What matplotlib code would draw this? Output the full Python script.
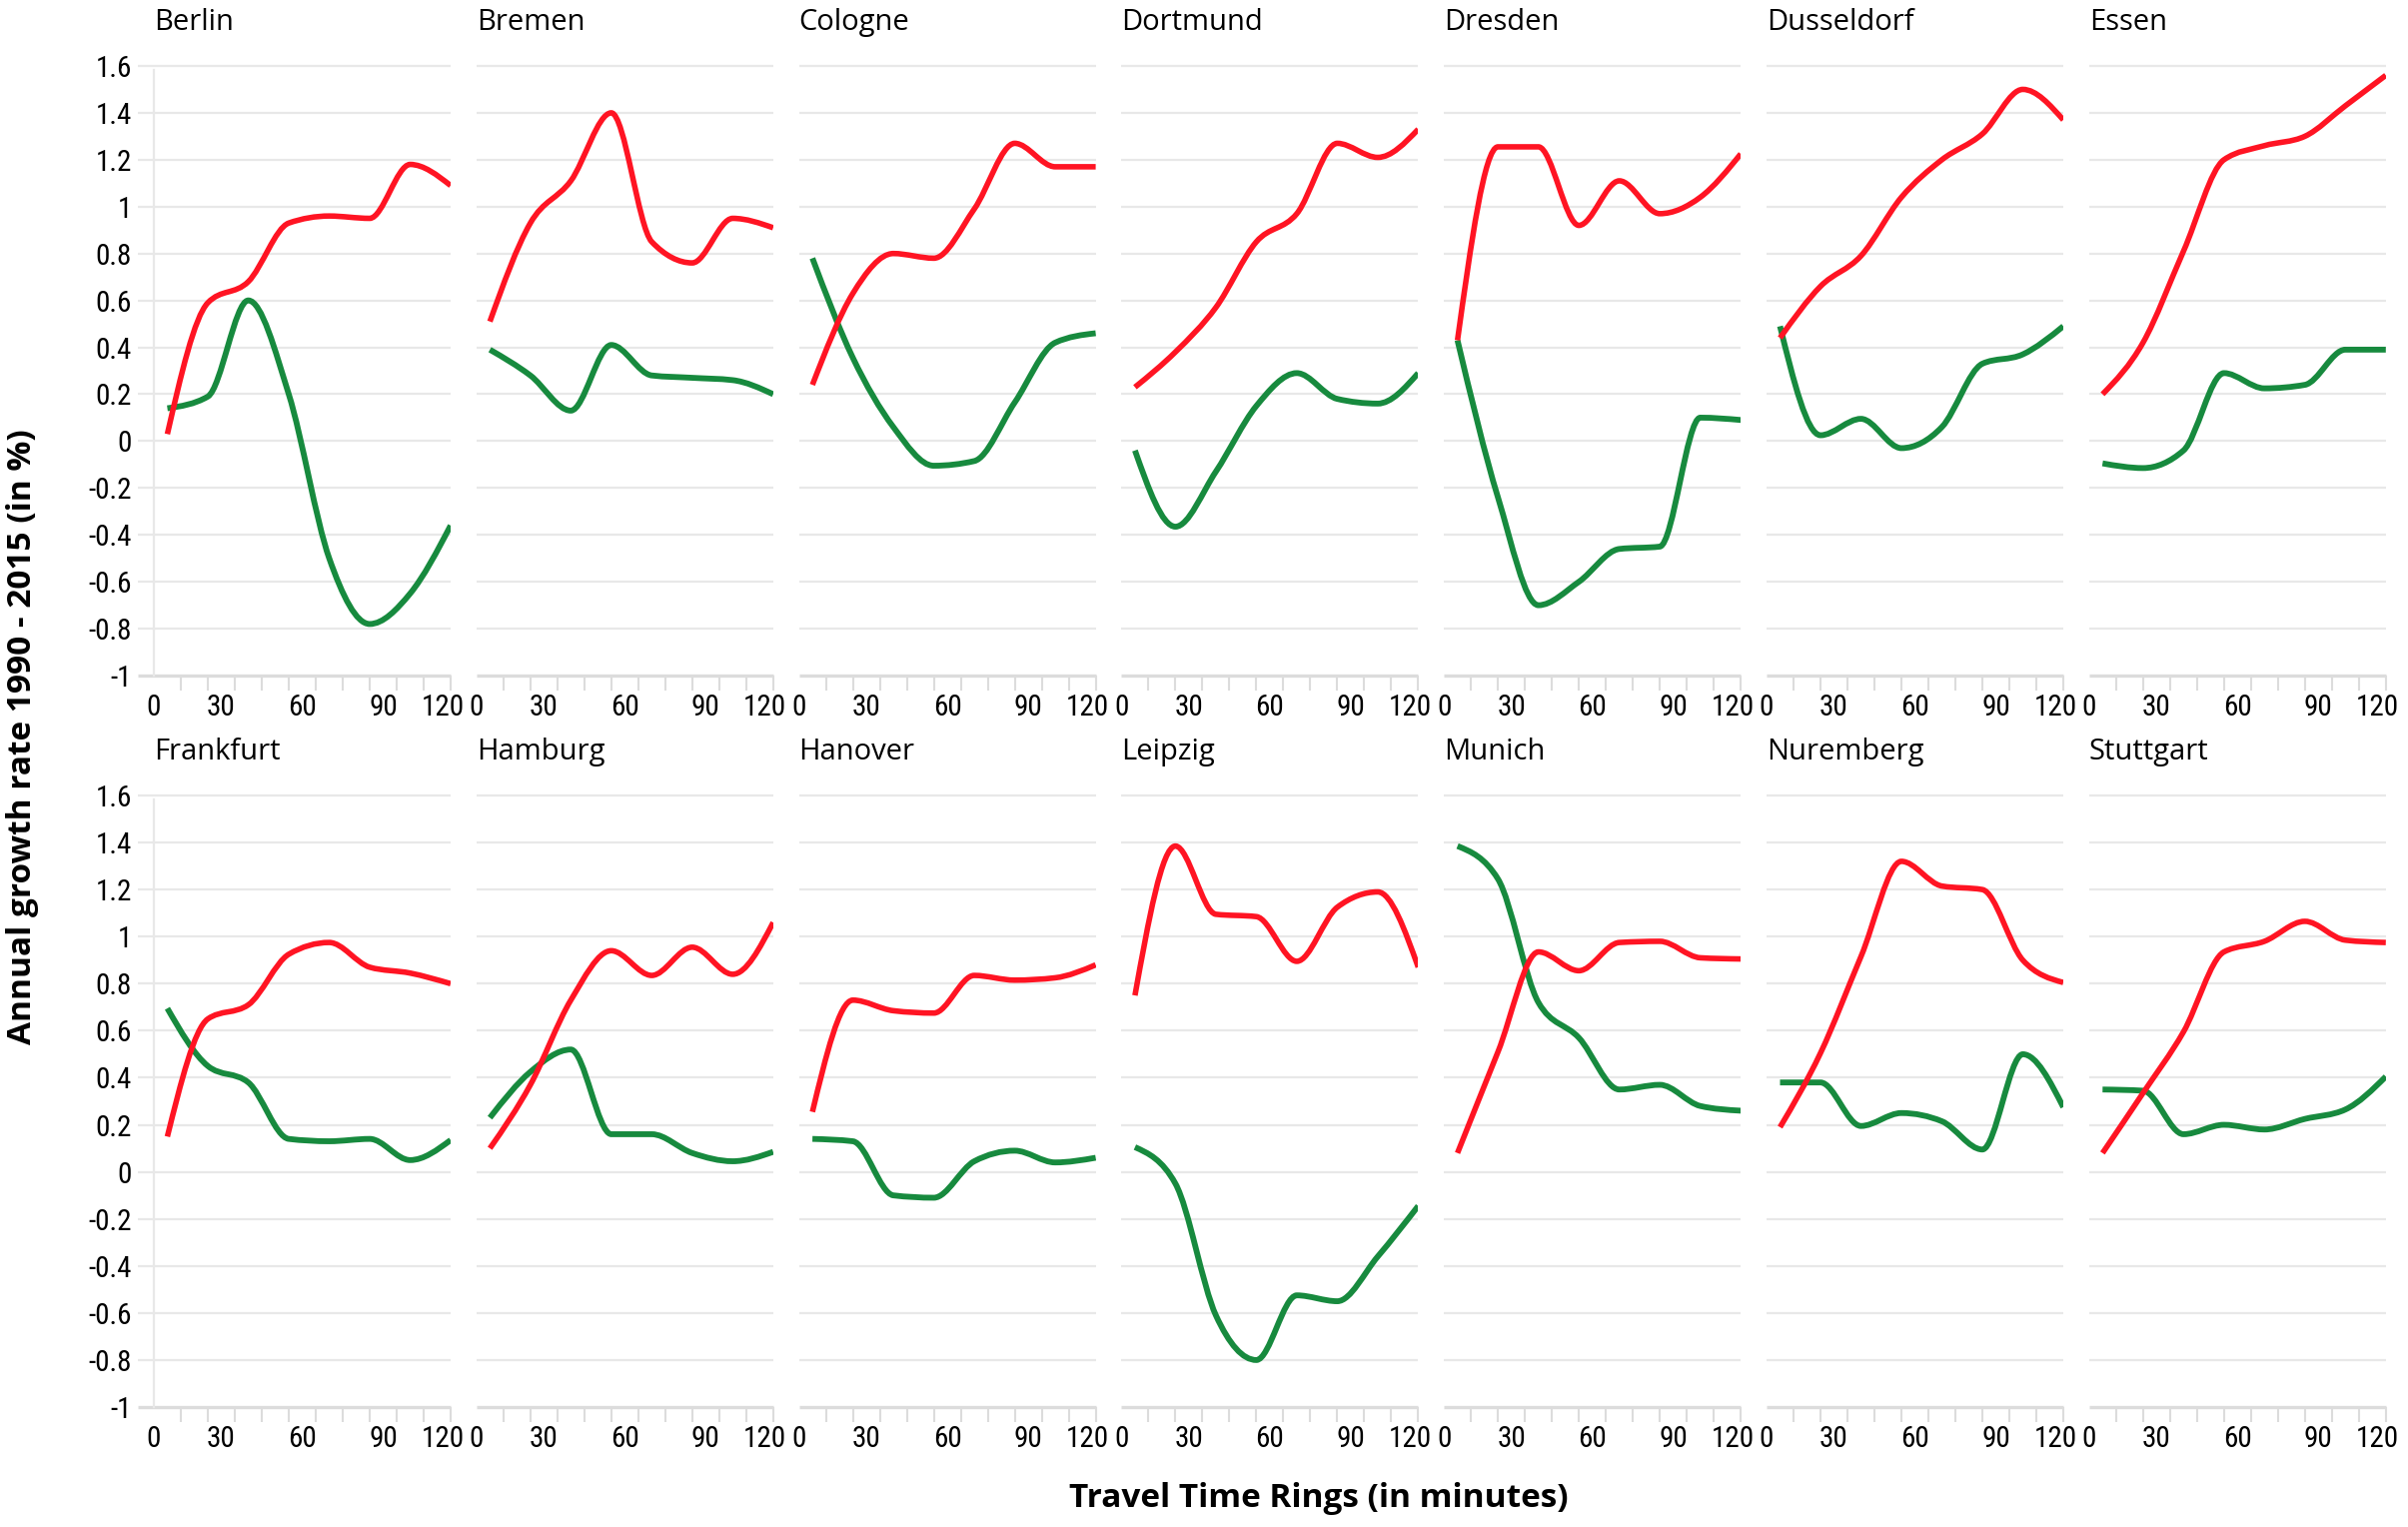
import matplotlib

matplotlib.use("Agg")
import matplotlib.pyplot as plt
import numpy as np
from matplotlib import font_manager
from matplotlib.patches import PathPatch
from matplotlib.path import Path

# --- data --------------------------------------------------------------
CITIES = [
    "Berlin", "Bremen", "Cologne", "Dortmund", "Dresden", "Dusseldorf", "Essen",
    "Frankfurt", "Hamburg", "Hanover", "Leipzig", "Munich", "Nuremberg", "Stuttgart",
]
# ring midpoints on the chart's x scale (minutes)
RING_X = [7.5, 22.5, 37.5, 52.5, 67.5, 82.5, 97.5, 112.5]

RED = [
    [0.03, 0.59, 0.68, 0.93, 0.96, 0.95, 1.18, 1.09],   # Berlin
    [0.51, 0.93, 1.11, 1.40, 0.85, 0.76, 0.95, 0.91],   # Bremen
    [0.24, 0.63, 0.80, 0.78, 0.99, 1.27, 1.17, 1.17],   # Cologne
    [0.23, 0.38, 0.57, 0.85, 0.97, 1.27, 1.21, 1.33],   # Dortmund
    [0.43, 1.255, 1.255, 0.92, 1.11, 0.97, 1.04, 1.225],  # Dresden
    [0.44, 0.66, 0.79, 1.04, 1.20, 1.31, 1.50, 1.37],   # Dusseldorf
    [0.20, 0.42, 0.81, 1.20, 1.26, 1.30, 1.43, 1.56],   # Essen
    [0.15, 0.65, 0.71, 0.925, 0.975, 0.87, 0.845, 0.80],  # Frankfurt
    [0.10, 0.37, 0.73, 0.94, 0.835, 0.955, 0.84, 1.06],  # Hamburg
    [0.255, 0.73, 0.685, 0.675, 0.835, 0.815, 0.825, 0.88],  # Hanover
    [0.75, 1.385, 1.095, 1.085, 0.895, 1.125, 1.19, 0.87],  # Leipzig
    [0.08, 0.51, 0.935, 0.855, 0.975, 0.98, 0.91, 0.905],  # Munich
    [0.19, 0.505, 0.915, 1.32, 1.215, 1.20, 0.90, 0.805],  # Nuremberg
    [0.08, 0.335, 0.595, 0.935, 0.98, 1.065, 0.985, 0.975],  # Stuttgart
]
GREEN = [
    [0.14, 0.19, 0.60, 0.20, -0.50, -0.78, -0.65, -0.36],   # Berlin
    [0.39, 0.28, 0.13, 0.41, 0.28, 0.27, 0.26, 0.20],       # Bremen
    [0.78, 0.355, 0.06, -0.105, -0.085, 0.165, 0.42, 0.46],  # Cologne
    [-0.04, -0.365, -0.13, 0.15, 0.29, 0.18, 0.16, 0.29],   # Dortmund
    [0.43, -0.24, -0.70, -0.60, -0.46, -0.45, 0.10, 0.09],  # Dresden
    [0.49, 0.025, 0.095, -0.03, 0.06, 0.33, 0.37, 0.49],    # Dusseldorf
    [-0.095, -0.115, -0.04, 0.29, 0.225, 0.24, 0.39, 0.39],  # Essen
    [0.695, 0.45, 0.38, 0.14, 0.13, 0.14, 0.05, 0.135],     # Frankfurt
    [0.23, 0.425, 0.52, 0.16, 0.16, 0.08, 0.045, 0.085],    # Hamburg
    [0.14, 0.13, -0.10, -0.11, 0.045, 0.09, 0.04, 0.06],    # Hanover
    [0.105, -0.05, -0.61, -0.80, -0.525, -0.55, -0.36, -0.145],  # Leipzig
    [1.385, 1.245, 0.72, 0.57, 0.35, 0.37, 0.28, 0.26],     # Munich
    [0.38, 0.38, 0.195, 0.25, 0.215, 0.095, 0.50, 0.275],   # Nuremberg
    [0.35, 0.345, 0.16, 0.20, 0.18, 0.225, 0.265, 0.405],   # Stuttgart
]

YTICKS = [1.6, 1.4, 1.2, 1.0, 0.8, 0.6, 0.4, 0.2, 0.0, -0.2, -0.4, -0.6, -0.8, -1.0]
YTICK_LABELS = ["1.6", "1.4", "1.2", "1", "0.8", "0.6", "0.4", "0.2", "0",
                "-0.2", "-0.4", "-0.6", "-0.8", "-1"]
XTICK_LABELS = ["0", "30", "60", "90", "120"]
XTICK_POS = [2.5, 27.5, 57.5, 87.5, 109.5]

RED_C = "#FF1423"
GREEN_C = "#178A3E"
GRID_C = "#E8E8E8"
AXIS_C = "#DCDCDC"

# narrow face for tick numbers, a wider humanist face for titles
_names = {f.name for f in font_manager.fontManager.ttflist}
NARROW = next(
    (n for n in ["Roboto Condensed", "Liberation Sans Narrow", "Noto Sans Condensed",
                 "Noto Sans"] if n in _names),
    "DejaVu Sans",
)
WIDE = "Open Sans" if "Open Sans" in _names else "DejaVu Sans"
plt.rcParams["font.family"] = [NARROW, "DejaVu Sans"]


def monotone_path(x, y):
    """Monotone cubic (d3 monotoneX style) through the given knots."""
    x = np.asarray(x, float)
    y = np.asarray(y, float)
    n = len(x)
    h = np.diff(x)
    s = np.diff(y) / h
    t = np.zeros(n)
    for i in range(1, n - 1):
        p = (s[i - 1] * h[i] + s[i] * h[i - 1]) / (h[i - 1] + h[i])
        t[i] = (np.sign(s[i - 1]) + np.sign(s[i])) * min(abs(s[i - 1]), abs(s[i]), 0.5 * abs(p))
    t[0] = (3 * s[0] - t[1]) / 2
    t[-1] = (3 * s[-1] - t[-2]) / 2
    verts = [(x[0], y[0])]
    codes = [Path.MOVETO]
    for i in range(n - 1):
        d = h[i] / 3
        verts += [(x[i] + d, y[i] + d * t[i]), (x[i + 1] - d, y[i + 1] - d * t[i + 1]),
                  (x[i + 1], y[i + 1])]
        codes += [Path.CURVE4] * 3
    return Path(verts, codes)


W, H = 2410, 1528
LEFT0, STEP, PW = 154, 322.8, 297
ROWS = [(66, 676), (796, 1408)]

fig = plt.figure(figsize=(W / 100, H / 100), dpi=100)

for k, city in enumerate(CITIES):
    r, c = divmod(k, 7)
    top, bot = ROWS[r]
    ax = fig.add_axes([(LEFT0 + c * STEP) / W, 1 - bot / H, PW / W, (bot - top) / H])
    ax.set_xlim(2.5, 112.5)
    ax.set_ylim(-1, 1.6)
    for side in ["top", "right", "bottom", "left"]:
        ax.spines[side].set_visible(False)

    x0 = -0.054 if c == 0 else 0.0
    for yv in YTICKS[:-1]:
        ax.hlines(yv, x0, 1, transform=ax.get_yaxis_transform(), color=GRID_C,
                  lw=1.6, zorder=0, clip_on=False)
    ax.hlines(-1, x0, 1, transform=ax.get_yaxis_transform(), color=AXIS_C,
              lw=2.4, zorder=1, clip_on=False)
    if c == 0:
        ax.spines["left"].set_visible(True)
        ax.spines["left"].set_color(GRID_C)
        ax.spines["left"].set_linewidth(1.6)
        ax.spines["left"].set_bounds(-1, 1.585)

    ax.set_xticks(np.arange(2.5, 113, 10), minor=True)
    ax.set_xticks(XTICK_POS, XTICK_LABELS)
    ax.tick_params(axis="x", which="minor", length=11, width=1.5, color=AXIS_C)
    ax.tick_params(axis="x", which="major", length=0, pad=13, labelsize=21)
    ax.set_yticks(YTICKS)
    if c == 0:
        ax.set_yticklabels(YTICK_LABELS)
    else:
        ax.set_yticklabels([])
    ax.tick_params(axis="y", length=0, pad=16, labelsize=21)

    ax.add_patch(PathPatch(monotone_path(RING_X, GREEN[k]), fill=False, ec=GREEN_C,
                           lw=4.2, capstyle="butt", joinstyle="round", zorder=3))
    ax.add_patch(PathPatch(monotone_path(RING_X, RED[k]), fill=False, ec=RED_C,
                           lw=4.0, capstyle="butt", joinstyle="round", zorder=4))

    ax.annotate(city, xy=(0, 1), xycoords="axes fraction", xytext=(0, 31),
                textcoords="offset points", ha="left", va="center", fontsize=21,
                family=[WIDE, "DejaVu Sans"])

fig.text(23 / W, 1 - 737 / H, "Annual growth rate 1990 - 2015 (in %)", rotation=90,
         ha="center", va="center", fontsize=24, fontweight="bold",
         family=[WIDE, "DejaVu Sans"])
fig.text(1320 / W, 1 - 1499 / H, "Travel Time Rings (in minutes)",
         ha="center", va="center", fontsize=24, fontweight="bold",
         family=[WIDE, "DejaVu Sans"])

fig.savefig("out.png", dpi=100)
